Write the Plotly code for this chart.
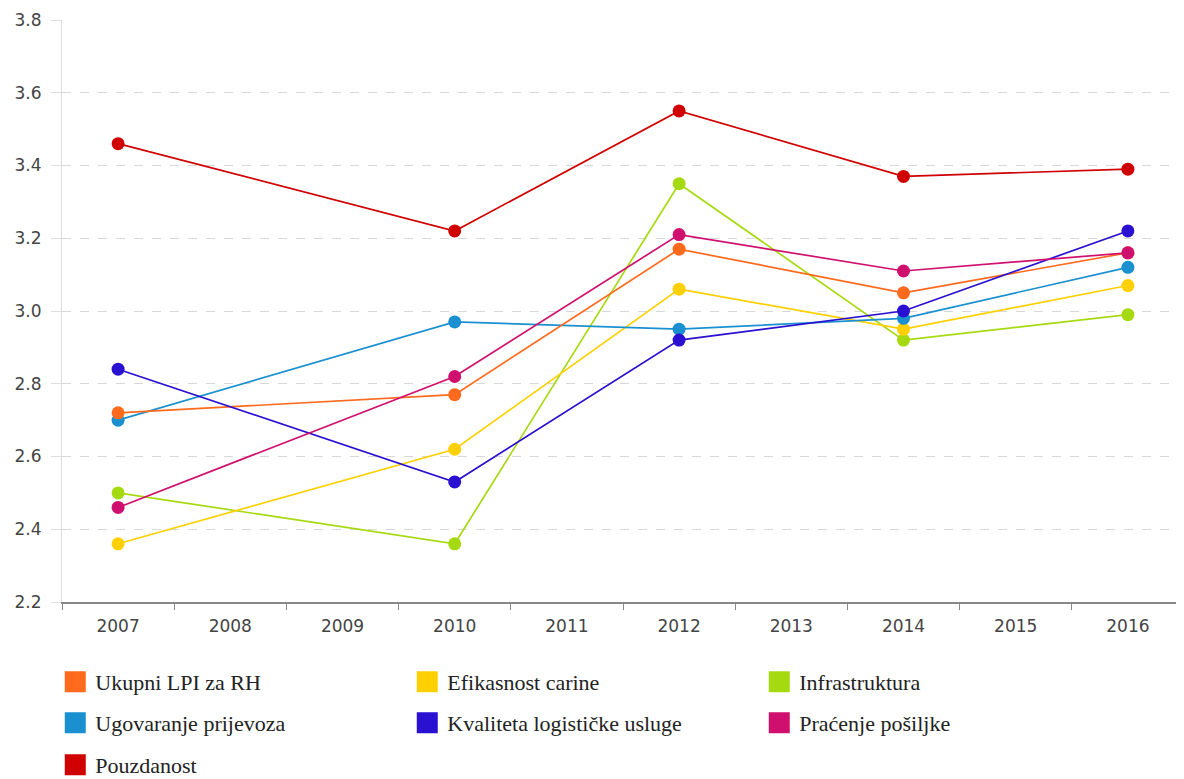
import plotly.graph_objects as go

years = ["2007", "2008", "2009", "2010", "2011", "2012", "2013", "2014", "2015", "2016"]

ukupni = [2.72, None, None, 2.77, None, 3.17, None, 3.05, None, 3.16]
efikasnost = [2.36, None, None, 2.62, None, 3.06, None, 2.95, None, 3.07]
infrastruktura = [2.50, None, None, 2.36, None, 3.35, None, 2.92, None, 2.99]
ugovaranje = [2.70, None, None, 2.97, None, 2.95, None, 2.98, None, 3.12]
kvaliteta = [2.84, None, None, 2.53, None, 2.92, None, 3.00, None, 3.22]
pracenje = [2.46, None, None, 2.82, None, 3.21, None, 3.11, None, 3.16]
pouzdanost = [3.46, None, None, 3.22, None, 3.55, None, 3.37, None, 3.39]

names = ["Ukupni LPI za RH", "Efikasnost carine", "Infrastruktura",
         "Ugovaranje prijevoza", "Kvaliteta logističke usluge", "Praćenje pošiljke",
         "Pouzdanost"]
series = [ukupni, efikasnost, infrastruktura, ugovaranje, kvaliteta, pracenje, pouzdanost]
colors = ["#FF6A1C", "#FFD000", "#A6DA10", "#1A90D0", "#2A10D0", "#D0106E", "#D00000"]
legend_rows = ["legend", "legend", "legend", "legend2", "legend2", "legend2", "legend3"]

# draw order: lines in the back first
draw_order = [2, 1, 3, 0, 4, 5, 6]

fig = go.Figure()
for i in draw_order:
    fig.add_trace(go.Scatter(
        x=years, y=series[i], mode="lines+markers", name=names[i],
        connectgaps=True, showlegend=False,
        line=dict(color=colors[i], width=1.7),
        marker=dict(color=colors[i], size=13),
    ))

for i in range(len(names)):
    fig.add_trace(go.Scatter(
        x=[None], y=[None], mode="markers", name=names[i],
        legend=legend_rows[i],
        marker=dict(color=colors[i], size=16, symbol="square",
                    line=dict(color=colors[i], width=8)),
    ))

leg_common = dict(
    orientation="h", x=-0.006, xanchor="left", yanchor="middle",
    font=dict(family="Liberation Serif", size=22, color="#222"),
    entrywidth=307, entrywidthmode="pixels",
    itemsizing="trace", bgcolor="rgba(0,0,0,0)",
)

fig.update_layout(
    width=1184, height=779,
    paper_bgcolor="white", plot_bgcolor="white",
    margin=dict(l=54, r=8, t=12, b=185, autoexpand=False),
    legend=dict(leg_common, y=-0.1375),
    legend2=dict(leg_common, y=-0.2079),
    legend3=dict(leg_common, y=-0.2801),
    xaxis=dict(
        type="category", range=[-0.5, 9.5], automargin=False,
        showline=True, linecolor="#888", linewidth=1.5,
        ticks="outside", tickson="boundaries", ticklen=6, tickcolor="#888",
        tickfont=dict(family="DejaVu Sans", size=17, color="#444"),
        ticklabelstandoff=8,
        showgrid=False,
    ),
    yaxis=dict(
        range=[2.2, 3.8], dtick=0.2, tickformat=".1f", automargin=False,
        showline=True, linecolor="#ddd", linewidth=1,
        showgrid=True, gridcolor="#d8d8d8", griddash="dash", gridwidth=1,
        zeroline=False,
        tickfont=dict(family="DejaVu Sans", size=17, color="#444"),
        ticks="outside", ticklen=10, tickcolor="#ddd",
        ticklabelstandoff=6,
    ),
)

fig.write_html("out.html")
